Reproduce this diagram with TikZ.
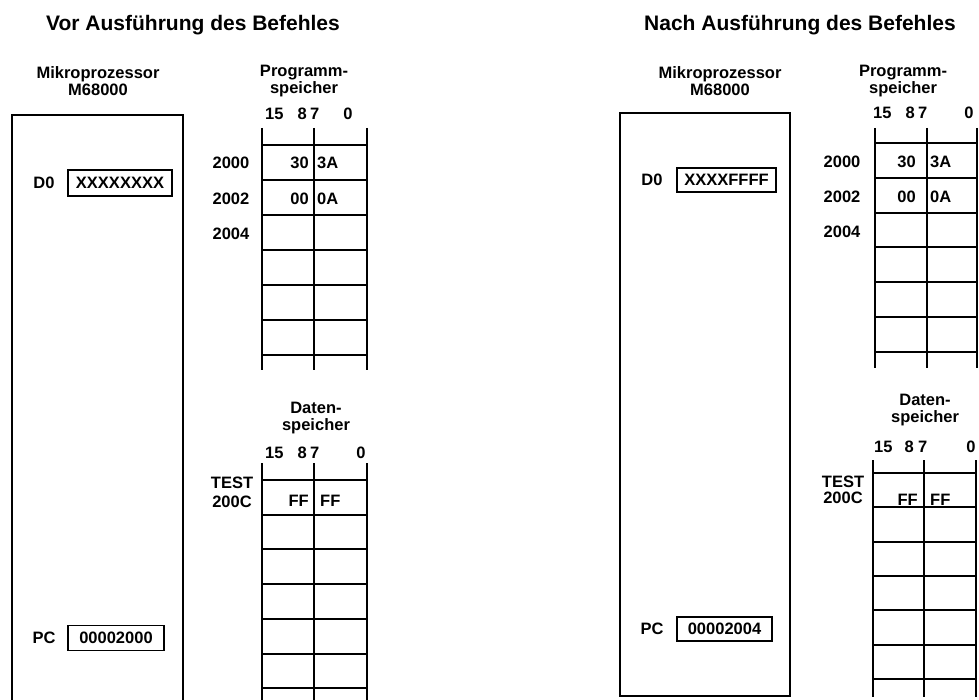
\documentclass[tikz,border=0pt]{standalone}
\usepackage{fontspec}
\setmainfont{Liberation Sans}
\usepackage{tikz}
\tikzset{
  ttl/.style={font=\bfseries\fontsize{21}{24}\selectfont, inner sep=0pt},
  lbl/.style={font=\bfseries\fontsize{16.5}{16.5}\selectfont, inner sep=0pt, align=center},
  reg/.style={draw, line width=1.5pt, inner sep=0pt, font=\bfseries\fontsize{16.5}{16.5}\selectfont},
  cpubox/.style={line width=2.6pt},
  rail/.style={line width=2.8pt},
  midrail/.style={line width=1.6pt},
  cellline/.style={line width=2pt}
}
\begin{document}
\begin{tikzpicture}[x=1pt,y=-1pt]
 \useasboundingbox (0,0) rectangle (979,700);
 % vor Ausfuehrung
 \node[ttl] (T1) at (193,25) {Vor Ausführung des Befehles};
 \node[lbl] (P1) at (98,81) {Mikroprozessor\\M68000};
 \draw[cpubox] (12,702) -- (12,115) -- (183,115) -- (183,702);
 \node[lbl] (D1) at (44,183) {D0};
 \node[reg,minimum width=104pt,minimum height=26pt] (R1) at (120,183) {XXXXXXXX};
 \node[lbl] (C1) at (44,638) {PC};
 \node[reg,minimum width=96pt,minimum height=25pt] (Q1) at (116,638) {00002000};
 % Programmspeicher
 \node[lbl] (S1) at (304,81) {Programm-\\speicher};
 \node[lbl,anchor=west] (H1a) at (265,114) {15};
 \node[lbl,anchor=east] (H1b) at (307,114) {8};
 \node[lbl,anchor=west] (H1c) at (310,114) {7};
 \node[lbl] (H1d) at (348,114) {0};
 \draw[rail] (262,128) -- (262,370);
 \draw[rail] (367,128) -- (367,370);
 \draw[midrail] (314,128) -- (314,370);
 \foreach \y in {145,180,...,355} \draw[cellline] (262,\y) -- (367,\y);
 \node[lbl] (A1a) at (231,163) {2000};
 \node[lbl] (A1b) at (231,199) {2002};
 \node[lbl] (A1c) at (231,234) {2004};
 \node[lbl,anchor=east] (V1a) at (309,163) {30};
 \node[lbl,anchor=west] (V1b) at (317,163) {3A};
 \node[lbl,anchor=east] (V1c) at (309,199) {00};
 \node[lbl,anchor=west] (V1d) at (317,199) {0A};
 % Datenspeicher
 \node[lbl] (S2) at (316,418) {Daten-\\speicher};
 \node[lbl,anchor=west] (H2a) at (265,453) {15};
 \node[lbl,anchor=east] (H2b) at (307,453) {8};
 \node[lbl,anchor=west] (H2c) at (310,453) {7};
 \node[lbl] (H2d) at (361,453) {0};
 \draw[rail] (262,463) -- (262,702);
 \draw[rail] (367,463) -- (367,702);
 \draw[midrail] (314,463) -- (314,702);
 \foreach \i in {0,...,6} \draw[cellline] (262,{480+34.7*\i}) -- (367,{480+34.7*\i});
 \node[lbl,font=\bfseries\fontsize{16.5}{19}\selectfont] (A2) at (232,492) {TEST\\200C};
 \node[lbl,anchor=east] (V2a) at (309,501) {FF};
 \node[lbl,anchor=west] (V2b) at (320,501) {FF};

 % nach Ausfuehrung
 \node[ttl] (T2) at (800,25) {Nach Ausführung des Befehles};
 \node[lbl] (P2) at (720,81) {Mikroprozessor\\M68000};
 \draw[cpubox] (620,113) rectangle (790,696);
 \node[lbl] (D2) at (652,180) {D0};
 \node[reg,minimum width=99pt,minimum height=24pt] (R2) at (726.5,180) {XXXXFFFF};
 \node[lbl] (C2) at (652,629) {PC};
 \node[reg,minimum width=95pt,minimum height=24pt] (Q2) at (724.5,629) {00002004};
 % Programmspeicher
 \node[lbl] (S3) at (903,81) {Programm-\\speicher};
 \node[lbl,anchor=west] (H3a) at (873,113) {15};
 \node[lbl,anchor=east] (H3b) at (915,113) {8};
 \node[lbl,anchor=west] (H3c) at (918,113) {7};
 \node[lbl] (H3d) at (969,113) {0};
 \draw[rail] (875,128) -- (875,368);
 \draw[rail] (977,128) -- (977,368);
 \draw[midrail] (927,128) -- (927,368);
 \foreach \i in {0,...,6} \draw[cellline] (875,{143+34.8*\i}) -- (977,{143+34.8*\i});
 \node[lbl] (A3a) at (842,162) {2000};
 \node[lbl] (A3b) at (842,197) {2002};
 \node[lbl] (A3c) at (842,232) {2004};
 \node[lbl,anchor=east] (V3a) at (916,162) {30};
 \node[lbl,anchor=west] (V3b) at (930,162) {3A};
 \node[lbl,anchor=east] (V3c) at (916,197) {00};
 \node[lbl,anchor=west] (V3d) at (930,197) {0A};
 % Datenspeicher
 \node[lbl] (S4) at (925,410) {Daten-\\speicher};
 \node[lbl,anchor=west] (H4a) at (874,447) {15};
 \node[lbl,anchor=east] (H4b) at (914,447) {8};
 \node[lbl,anchor=west] (H4c) at (918,447) {7};
 \node[lbl] (H4d) at (971,447) {0};
 \draw[rail] (873,460) -- (873,697);
 \draw[rail] (976,460) -- (976,697);
 \draw[midrail] (924,460) -- (924,697);
 \foreach \i in {0,...,6} \draw[cellline] (873,{473+34.3*\i}) -- (976,{473+34.3*\i});
 \node[lbl,font=\bfseries\fontsize{16.5}{16.5}\selectfont] (A4) at (843,490) {TEST\\200C};
 \node[lbl,anchor=east] (V4a) at (918,500) {FF};
 \node[lbl,anchor=west] (V4b) at (930,500) {FF};
\end{tikzpicture}
\end{document}
